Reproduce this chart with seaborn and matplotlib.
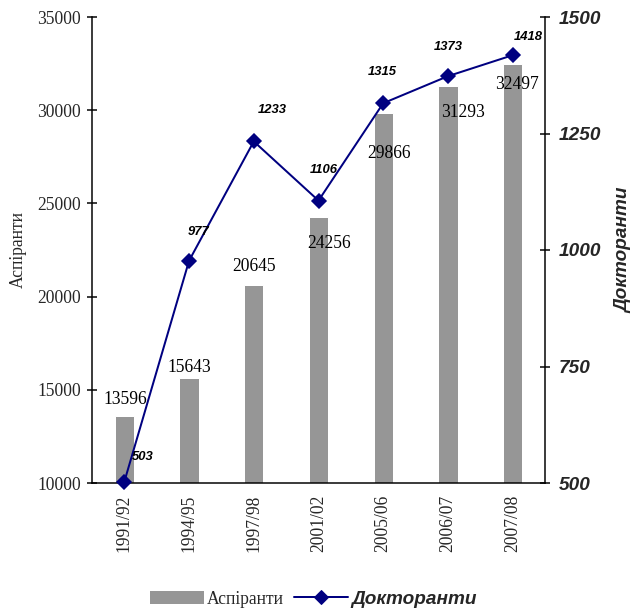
import matplotlib
matplotlib.use("Agg")
import matplotlib.pyplot as plt
import seaborn as sns
import pandas as pd
from matplotlib.patches import Patch
from matplotlib.lines import Line2D
from matplotlib.font_manager import FontProperties

# ---- data ----
years = ["1991/92", "1994/95", "1997/98", "2001/02", "2005/06", "2006/07", "2007/08"]
aspiranty = [13596, 15643, 20645, 24256, 29866, 31293, 32497]
doktoranty = [503, 977, 1233, 1106, 1315, 1373, 1418]
left_ticks = [10000, 15000, 20000, 25000, 30000, 35000]
right_ticks = [500, 750, 1000, 1250, 1500]

# ---- label layout (offsets in points == pixels at dpi 72) ----
bar_lbl_dx = [1, 0, 0, 11, 6, 15, 4]
bar_lbl_dy = [16, 10, 18, -26, -41, -26, -21]
line_lbl_dx = [18, 9, 19, 5, -1, 0, 16]
line_lbl_dy = [25, 29, 31, 31, 31, 29, 18]

sns.set_theme(style="white")
plt.rcParams["font.family"] = ["Liberation Serif", "DejaVu Serif"]

serif = FontProperties(family="Liberation Serif", size=17.5)
sans_bi = FontProperties(family="Liberation Sans", weight="bold", style="italic", size=19)
sans_bi_small = FontProperties(family="Liberation Sans", weight="bold", style="italic", size=13)
sans_bi_lab = FontProperties(family="Liberation Sans", weight="bold", style="italic", size=19)

df = pd.DataFrame({"year": years, "asp": aspiranty, "doc": doktoranty})

fig = plt.figure(figsize=(632 / 72, 610 / 72), dpi=72)
ax = fig.add_axes([92 / 632, 1 - 483 / 610, (545 - 92) / 632, (483 - 17) / 610])

BAR_COLOR = "#969696"
LINE_COLOR = "#000080"

sns.barplot(data=df, x="year", y="asp", color=BAR_COLOR, width=0.3,
            saturation=1, ax=ax, zorder=2)
ax.set_ylim(10000, 35000)
ax.set_xlim(-0.5, len(years) - 0.5)
ax.set_yticks(left_ticks)
ax.set_yticklabels([str(t) for t in left_ticks], fontproperties=serif)
ax.set_xticks(range(len(years)))
ax.set_xticklabels(years, rotation=90, fontproperties=serif)
ax.tick_params(axis="x", which="major", length=0, pad=12)
ax.set_xticks([i + 0.5 for i in range(-1, len(years))], minor=True)
ax.tick_params(axis="x", which="minor", direction="inout", length=9, width=1.5, color="black")
ax.tick_params(axis="y", which="major", direction="inout", length=10, width=1.5,
               color="black", left=True, pad=6)
ax.set_xlabel("")
ax.set_ylabel("Аспіранти", fontproperties=serif, labelpad=10)

for s in ["top", "right"]:
    ax.spines[s].set_visible(False)
for s in ["left", "bottom"]:
    ax.spines[s].set_color("black")
    ax.spines[s].set_linewidth(1.5)

for i, v in enumerate(aspiranty):
    ax.annotate(str(v), xy=(i, v), xytext=(bar_lbl_dx[i], bar_lbl_dy[i]),
                textcoords="offset points", ha="center", va="center",
                fontproperties=serif, color="black", zorder=5)

ax2 = ax.twinx()
sns.pointplot(data=df, x="year", y="doc", color=LINE_COLOR, markers="D",
              markersize=10, linewidth=2, errorbar=None, ax=ax2)
ax2.set_xlim(-0.5, len(years) - 0.5)
ax2.set_ylim(500, 1500)
ax2.set_yticks(right_ticks)
ax2.set_yticklabels([str(t) for t in right_ticks], fontproperties=sans_bi)
ax2.tick_params(axis="y", direction="inout", length=10, width=1.5, color="black",
                right=True, pad=9)
ax2.set_ylabel("Докторанти", fontproperties=sans_bi_lab, rotation=90, labelpad=14)
ax2.set_xlabel("")
for s in ["top", "left", "bottom"]:
    ax2.spines[s].set_visible(False)
ax2.spines["right"].set_color("black")
ax2.spines["right"].set_linewidth(1.5)
for ln in ax2.lines:
    ln.set_clip_on(False)
for c in ax2.collections:
    c.set_clip_on(False)

for i, v in enumerate(doktoranty):
    ax2.annotate(str(v), xy=(i, v), xytext=(line_lbl_dx[i], line_lbl_dy[i]),
                 textcoords="offset points", ha="center", va="center",
                 fontproperties=sans_bi_small, color="black", annotation_clip=False)

handles = [Patch(facecolor=BAR_COLOR, edgecolor="none"),
           Line2D([0], [0], color=LINE_COLOR, linewidth=2, marker="D", markersize=10)]
leg = fig.legend(handles, ["Аспіранти", "Докторанти"], loc="center",
                 bbox_to_anchor=((313) / 632, 1 - 599 / 610), ncol=2, frameon=False,
                 prop=serif, handlelength=3.1, handleheight=0.8,
                 columnspacing=0.6, handletextpad=0.15)
leg.get_texts()[1].set_fontproperties(sans_bi_lab)

fig.savefig("out.png", dpi=72, facecolor="white")
